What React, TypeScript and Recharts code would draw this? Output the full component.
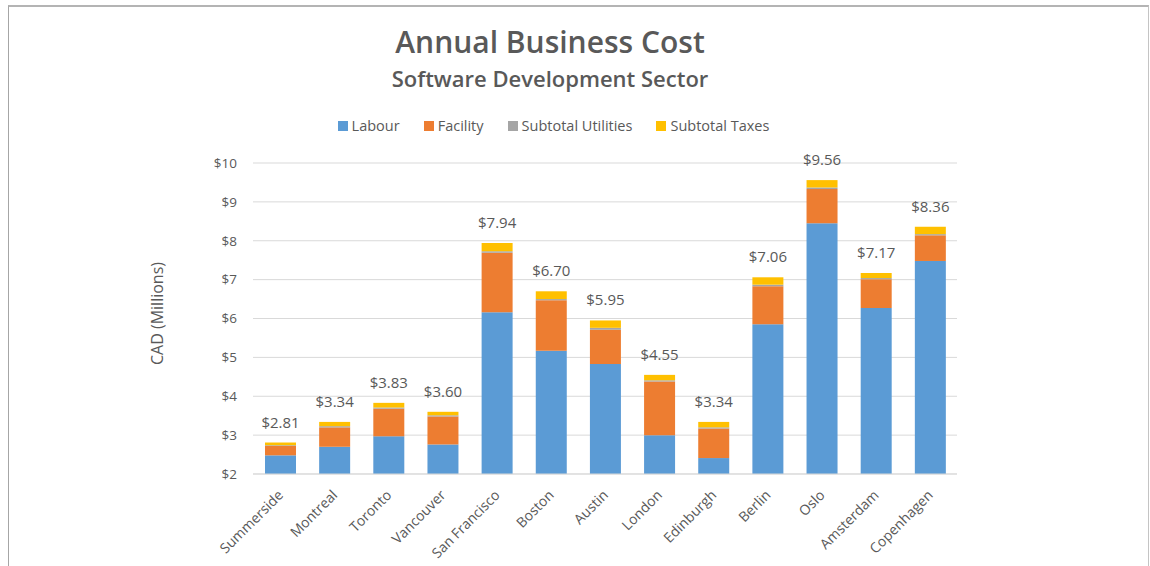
import { Bar, BarChart, CartesianGrid, LabelList, Legend, XAxis, YAxis } from "recharts";

const FONT = '"Open Sans", "Noto Sans", sans-serif';
const TEXT = "#595959";

const cities = [
  "Summerside", "Montreal", "Toronto", "Vancouver", "San Francisco", "Boston", "Austin",
  "London", "Edinburgh", "Berlin", "Oslo", "Amsterdam", "Copenhagen",
];
const labour = [2.48, 2.7, 2.97, 2.76, 6.16, 5.17, 4.83, 3.0, 2.41, 5.85, 8.45, 6.27, 7.48];
const facility = [0.24, 0.5, 0.71, 0.72, 1.53, 1.3, 0.88, 1.38, 0.76, 0.98, 0.88, 0.74, 0.66];
const utilities = [0.02, 0.03, 0.03, 0.03, 0.04, 0.03, 0.05, 0.03, 0.03, 0.04, 0.04, 0.03, 0.03];
const taxes = [0.07, 0.11, 0.12, 0.09, 0.21, 0.2, 0.19, 0.14, 0.14, 0.19, 0.19, 0.13, 0.19];
const totals = [2.81, 3.34, 3.83, 3.6, 7.94, 6.7, 5.95, 4.55, 3.34, 7.06, 9.56, 7.17, 8.36];
const yTicks = [2, 3, 4, 5, 6, 7, 8, 9, 10];

const series = [
  { key: "labour", name: "Labour", color: "#5b9bd5" },
  { key: "facility", name: "Facility", color: "#ed7d31" },
  { key: "utilities", name: "Subtotal Utilities", color: "#a5a5a5" },
  { key: "taxes", name: "Subtotal Taxes", color: "#ffc000" },
];

const rows = cities.map((city, i) => ({
  city,
  labour: labour[i],
  facility: facility[i],
  utilities: utilities[i],
  taxes: taxes[i],
  total: totals[i],
}));

function CityTick({ x, y, payload }: any) {
  const ax = x + 4;
  const ay = y + 14;
  return (
    <text
      x={ax}
      y={ay}
      transform={`rotate(-45 ${ax} ${ay})`}
      textAnchor="end"
      fill={TEXT}
      fontSize={14}
      fontFamily={FONT}
    >
      {payload.value}
    </text>
  );
}

function LegendRow({ payload }: any) {
  const order = series.map((s) => s.name);
  const items = [...(payload ?? [])].sort((a: any, b: any) => order.indexOf(a.value) - order.indexOf(b.value));
  return (
    <div style={{ display: "flex", justifyContent: "center", gap: 24, fontSize: 14.5, color: TEXT, fontFamily: FONT }}>
      {items.map((p: any) => (
        <div key={p.value} style={{ display: "flex", alignItems: "center", gap: 4 }}>
          <span style={{ width: 10, height: 10, background: p.color, display: "inline-block" }} />
          <span>{p.value}</span>
        </div>
      ))}
    </div>
  );
}

export default function App() {
  return (
    <div style={{ position: "absolute", left: 0, top: 0, width: 1150, height: 566, background: "#fff", overflow: "hidden", fontFamily: FONT }}>
      <div
        style={{
          position: "absolute",
          left: 8,
          top: 5,
          width: 1139,
          height: 600,
          borderTop: "2px solid #b4b4b4",
          borderLeft: "1px solid #a6a6a6",
          borderRight: "1px solid #c4c4c4",
        }}
      />
      <div style={{ position: "absolute", left: 0, top: 0 }}>
        <BarChart width={1150} height={566} data={rows} margin={{ top: 163, right: 193, bottom: 0, left: 0 }}>
          <CartesianGrid vertical={false} stroke="#d9d9d9" />
          <XAxis
            dataKey="city"
            interval={0}
            height={92}
            axisLine={{ stroke: "#d9d9d9" }}
            tickLine={false}
            tick={<CityTick />}
          />
          <YAxis
            type="number"
            domain={[2, 10]}
            ticks={yTicks}
            allowDataOverflow
            width={253}
            axisLine={false}
            tickLine={false}
            tickMargin={10}
            tickFormatter={(v) => `$${v}`}
            tick={{ fill: TEXT, fontSize: 13.5, fontFamily: FONT }}
            label={{ value: "CAD (Millions)", angle: -90, position: "center", dx: 31, dy: -5, fill: TEXT, fontSize: 16, fontFamily: FONT }}
          />
          <Legend
            layout="horizontal"
            verticalAlign="middle"
            align="center"
            wrapperStyle={{ top: 116, left: 0, width: 1107 }}
            content={<LegendRow />}
          />
          {series.map((s) => (
            <Bar key={s.key} dataKey={s.key} name={s.name} stackId="cost" fill={s.color} barSize={31} isAnimationActive={false}>
              {s.key === "taxes" && (
                <LabelList
                  dataKey="total"
                  position="top"
                  offset={15}
                  formatter={(v: any) => `$${Number(v).toFixed(2)}`}
                  fill={TEXT}
                  fontSize={15}
                  fontFamily={FONT}
                />
              )}
            </Bar>
          ))}
        </BarChart>
      </div>
      <div style={{ position: "absolute", left: 0, top: 23, width: 1100, textAlign: "center", fontSize: 30, fontWeight: 600, color: TEXT, lineHeight: "38px" }}>
        Annual Business Cost
      </div>
      <div style={{ position: "absolute", left: 0, top: 64, width: 1100, textAlign: "center", fontSize: 22, fontWeight: 600, color: TEXT, lineHeight: "28px" }}>
        Software Development Sector
      </div>
    </div>
  );
}
